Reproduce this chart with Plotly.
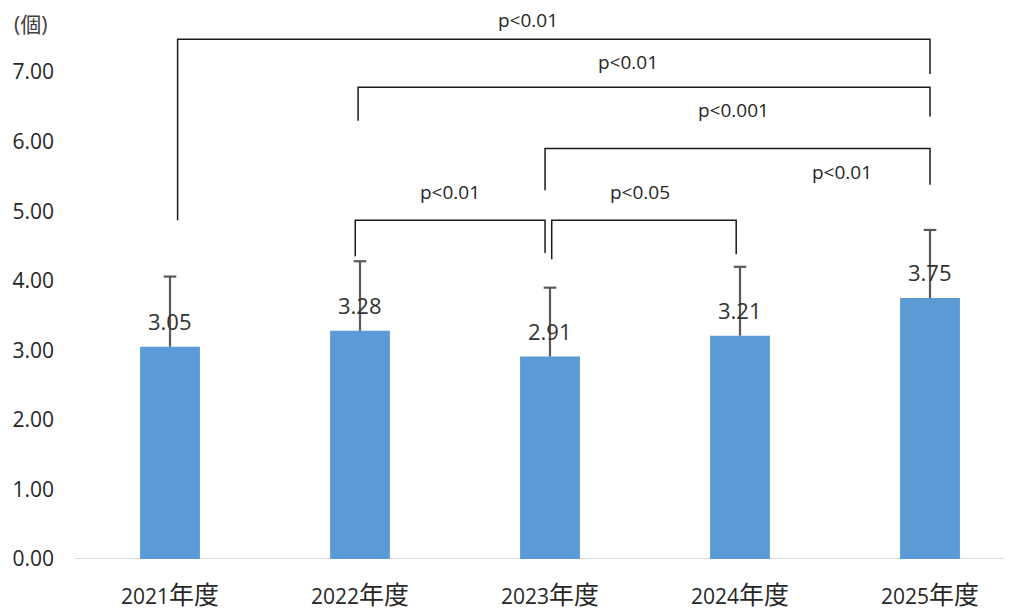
import plotly.graph_objects as go

categories = ["2021年度", "2022年度", "2023年度", "2024年度", "2025年度"]
means = [3.05, 3.28, 2.91, 3.21, 3.75]
errors = [1.01, 1.00, 0.99, 0.99, 0.98]
y_ticks = [0, 1, 2, 3, 4, 5, 6, 7]

# significance brackets: (left index, right index, bar height, left leg end, right leg end)
brackets = [
    (0.04, 4.00, 7.47, 4.87, 6.97),
    (0.99, 4.00, 6.78, 6.30, 6.36),
    (1.974, 4.00, 5.90, 5.30, 5.38),
    (0.975, 1.974, 4.87, 4.35, 4.40),
    (2.009, 2.98, 4.87, 4.31, 4.38),
]
p_labels = [
    (1.882, 7.75, "p<0.01"),
    (2.411, 7.14, "p<0.01"),
    (2.964, 6.45, "p<0.001"),
    (3.537, 5.56, "p<0.01"),
    (1.474, 5.27, "p<0.01"),
    (2.474, 5.27, "p<0.05"),
]

FONT = "Open Sans, Noto Sans CJK JP, sans-serif"
x_idx = list(range(len(categories)))

# page offset compensation (body margin of 8px)
PX_PER_UNIT = 69.57
L_MARGIN = 67
BASE_PX = 551
PLOT_W = 1012 - L_MARGIN

fig = go.Figure()
fig.add_trace(go.Bar(
    x=x_idx, y=means,
    marker=dict(color="#5B9BD5", line=dict(width=0)),
    error_y=dict(type="data", array=errors, symmetric=False, arrayminus=[0] * len(means),
                 color="#595959", thickness=2.2, width=0),
    width=0.315,
    hoverinfo="skip",
))
# error-bar caps (top only)
fig.add_trace(go.Scatter(
    x=x_idx, y=[m + e for m, e in zip(means, errors)],
    mode="markers",
    marker=dict(symbol="line-ew", size=9, line=dict(color="#595959", width=2.2)),
    hoverinfo="skip",
))

shapes = []
for (a, b, top, la, rb) in brackets:
    shapes.append(dict(type="path", xref="x", yref="y",
                       path=f"M {a},{la} L {a},{top} L {b},{top} L {b},{rb}",
                       line=dict(color="#1a1a1a", width=1.5)))
# baseline
shapes.append(dict(type="line", xref="paper", yref="y", x0=0, x1=1, y0=0, y1=0,
                   line=dict(color="#D9D9D9", width=2), layer="below"))

annotations = []
for i, m in enumerate(means):
    annotations.append(dict(x=i, y=m, xref="x", yref="y", text=f"{m:.2f}",
                            showarrow=False, yshift=26, yanchor="middle",
                            font=dict(family=FONT, size=22, color="#333333")))
for (x, y, t) in p_labels:
    annotations.append(dict(x=x, y=y, xref="x", yref="y", text=t, showarrow=False,
                            yanchor="middle", font=dict(family=FONT, size=19, color="#262626")))
annotations.append(dict(x=(4 - L_MARGIN) / PLOT_W, y=1.0,
                        xref="paper", yref="paper", text="(個)", showarrow=False,
                        xanchor="left", yanchor="top",
                        font=dict(family=FONT, size=21, color="#404040")))

tick_text = [c[:4] + "<span style='font-size:25px'>" + c[4:] + "</span>" for c in categories]

fig.update_layout(
    width=1012, height=614,
    margin=dict(l=L_MARGIN, r=0, t=0, b=614 - BASE_PX),
    paper_bgcolor="white", plot_bgcolor="white",
    showlegend=False,
    shapes=shapes, annotations=annotations,
    xaxis=dict(range=[-0.5, -0.5 + PLOT_W / 190], tickvals=x_idx, ticktext=tick_text,
               showgrid=False, zeroline=False, showline=False, ticks="",
               ticklabelstandoff=23,
               tickfont=dict(family=FONT, size=21, color="#262626")),
    yaxis=dict(range=[0, BASE_PX / PX_PER_UNIT], tickvals=y_ticks,
               ticktext=[f"{v:.2f}" for v in y_ticks],
               showgrid=False, zeroline=False, showline=False, ticks="",
               ticklabelstandoff=20,
               tickfont=dict(family=FONT, size=21, color="#262626")),
)

fig.write_html("out.html")
